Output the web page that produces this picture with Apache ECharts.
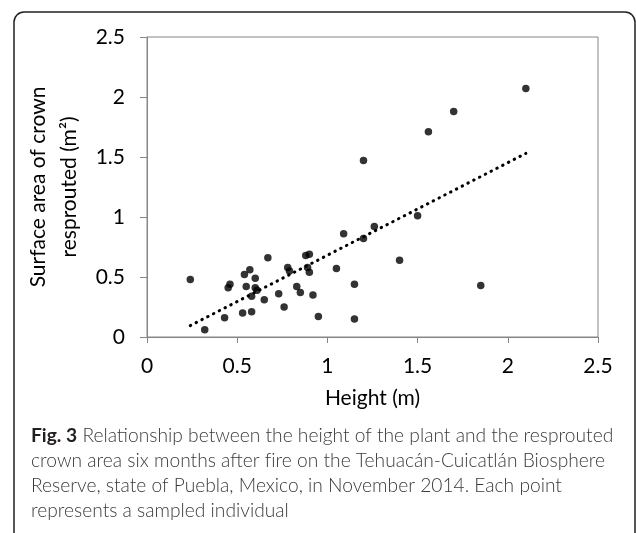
<!DOCTYPE html>
<html>
<head>
<meta charset="utf-8">
<script src="https://cdn.jsdelivr.net/npm/echarts@6/dist/echarts.min.js"></script>
<style>html,body{margin:0;padding:0;background:#fff}#c{width:636px;height:533px}</style>
</head>
<body>
<div id="c"></div>
<script>
// Data
const heightM = [0.24,0.32,0.43,0.45,0.46,0.53,0.54,0.55,0.57,0.58,0.58,0.60,0.60,0.61,0.65,0.67,0.73,0.76,0.78,0.79,0.83,0.85,0.88,0.90,0.89,0.90,0.92,0.95,1.05,1.09,1.15,1.15,1.20,1.20,1.26,1.40,1.50,1.56,1.70,1.85,2.10];
const areaM2  = [0.48,0.06,0.16,0.41,0.44,0.20,0.52,0.42,0.56,0.34,0.21,0.49,0.41,0.39,0.31,0.66,0.36,0.25,0.58,0.55,0.42,0.37,0.68,0.69,0.58,0.54,0.35,0.17,0.57,0.86,0.44,0.15,1.47,0.82,0.92,0.64,1.01,1.71,1.88,0.43,2.07];
const trendX = [0.24, 2.10];
const trendY = [0.095, 1.53];
const xTicks = ['0','0.5','1','1.5','2','2.5'];
const yTicks = ['0','0.5','1','1.5','2','2.5'];
const xTitle = 'Height (m)';
const yTitle = 'Surface area of crown\nresprouted (m²)';
const captionLines = [
  '{b|Fig. 3} Relationship between the height of the plant and the resprouted',
  'crown area six months after f\u200Cire on the Tehuacán-Cuicatlán Biosphere',
  'Reserve, state of Puebla, Mexico, in November 2014. Each point',
  'represents a sampled individual'
];

const points = heightM.map((h, i) => [h, areaM2[i]]);
const trend = trendX.map((x, i) => [x, trendY[i]]);
const axisFont = 'Lato, "Noto Sans", sans-serif';
const grey = '#868686';
const fs = 21;

const chart = echarts.init(document.getElementById('c'), null, {renderer: 'canvas'});
const graphics = [{
  type: 'rect', shape: {x: 14, y: 12, width: 621, height: 545, r: 10},
  style: {fill: 'none', stroke: '#231f20', lineWidth: 1.5}, silent: true
}];
captionLines.forEach((t, i) => {
  graphics.push({
    type: 'text', left: 31, top: 426 + i * 25,
    style: {
      text: t, fill: '#3a3a3a', font: '300 19.2px ' + axisFont,
      rich: {b: {fontWeight: 'bold', fontFamily: 'Lato', fontSize: 19.2, fill: '#231f20'}}
    }
  });
});

chart.setOption({
  animation: false,
  grid: {left: 147, top: 37, width: 451, height: 300, show: true, borderColor: grey, borderWidth: 1, containLabel: false},
  xAxis: {
    type: 'value', min: 0, max: 2.5, interval: 0.5,
    name: xTitle, nameLocation: 'middle', nameGap: 51,
    nameTextStyle: {color: '#000', fontSize: fs, fontFamily: axisFont},
    axisLine: {show: true, lineStyle: {color: grey, width: 1}},
    axisTick: {show: true, length: 6, lineStyle: {color: grey}},
    axisLabel: {color: '#000', fontSize: fs, fontFamily: axisFont, margin: 19,
      formatter: (v) => xTicks[Math.round(v / 0.5)]},
    splitLine: {show: false}
  },
  yAxis: {
    type: 'value', min: 0, max: 2.5, interval: 0.5,
    name: yTitle, nameLocation: 'middle', nameGap: 51, nameRotate: 90,
    nameTextStyle: {color: '#000', fontSize: fs, fontFamily: axisFont, lineHeight: 31, align: 'center'},
    axisLine: {show: true, lineStyle: {color: grey, width: 1}},
    axisTick: {show: true, length: 7, lineStyle: {color: grey}},
    axisLabel: {color: '#000', fontSize: fs, fontFamily: axisFont, margin: 22,
      formatter: (v) => yTicks[Math.round(v / 0.5)]},
    splitLine: {show: false}
  },
  graphic: graphics,
  series: [
    {type: 'scatter', data: points, symbol: 'circle', symbolSize: 7.5,
      itemStyle: {color: '#000'}, z: 3},
    {type: 'line', data: trend, symbol: 'none', silent: true,
      lineStyle: {color: '#000', width: 3, type: [0.5, 6], cap: 'round'}, z: 2}
  ]
});
</script>
</body>
</html>
